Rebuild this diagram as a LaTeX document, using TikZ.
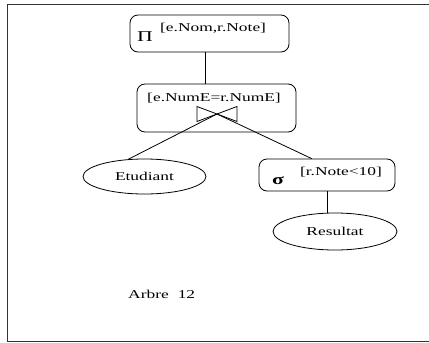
\documentclass[tikz,border=0pt]{standalone}
\usepackage{fontspec}
\setmainfont{Liberation Serif}[FakeStretch=1.45]
\usetikzlibrary{shapes.geometric}
\begin{document}
\begin{tikzpicture}[x=1pt,y=-1pt,
  op/.style={draw, rounded corners=8pt, line width=0.8pt, inner sep=0pt},
  rel/.style={draw, ellipse, line width=0.8pt, inner sep=0pt,
              font=\fontsize{12}{14}\selectfont},
  lbl/.style={font=\fontsize{12}{14}\selectfont, inner sep=0pt},
  sym/.style={font=\fontsize{15}{16}\selectfont, inner sep=0pt, anchor=base west},
  edge/.style={line width=0.8pt}]
\useasboundingbox (0,0) rectangle (429,343);
% frame around the tree
\draw[line width=1pt, draw=black!80] (429,4) -- (7,4) -- (7,341) -- (429,341);

% projection
\node[op, minimum width=159pt, minimum height=37pt] (pi) at (209.5,33.5) {};
\node[sym] (pisym) at (137,41) {Π};
\node[lbl, anchor=west] (piarg) at (160,28) {[e.Nom,r.Note]};

% join
\node[op, minimum width=159pt, minimum height=48pt] (join) at (216.5,108) {};
\node[lbl] (joinarg) at (214,98) {[e.NumE=r.NumE]};
\coordinate (bt) at (217,114);
\draw[edge] (bt) ++(-20,-7.5) -- ++(40,15) -- ++(0,-15) -- ++(-40,15) -- cycle;

% relations and selection
\node[rel, minimum width=123pt, minimum height=35pt] (etud) at (144.5,176.5) {Etudiant};
\node[op, minimum width=136pt, minimum height=32pt] (sig) at (327,175) {};
\node[sym] (sigsym) at (272,184) {\textbf{σ}};
\node[lbl] (sigarg) at (341,172) {[r.Note<10]};
\node[rel, minimum width=124pt, minimum height=37pt] (res) at (335,231.5) {Resultat};

% edges
\draw[edge] ([xshift=-4pt]pi.south) -- ([xshift=-4pt]pi.south |- join.north);
\draw[edge] (bt) -- (etud.133);
\draw[edge] (bt) -- (sig.133);
\draw[edge] (sig.south) -- (sig.south |- res.north);

% caption
\node[lbl, anchor=base west] (caption) at (128,298) {Arbre\hspace{9pt}12};
\end{tikzpicture}
\end{document}
